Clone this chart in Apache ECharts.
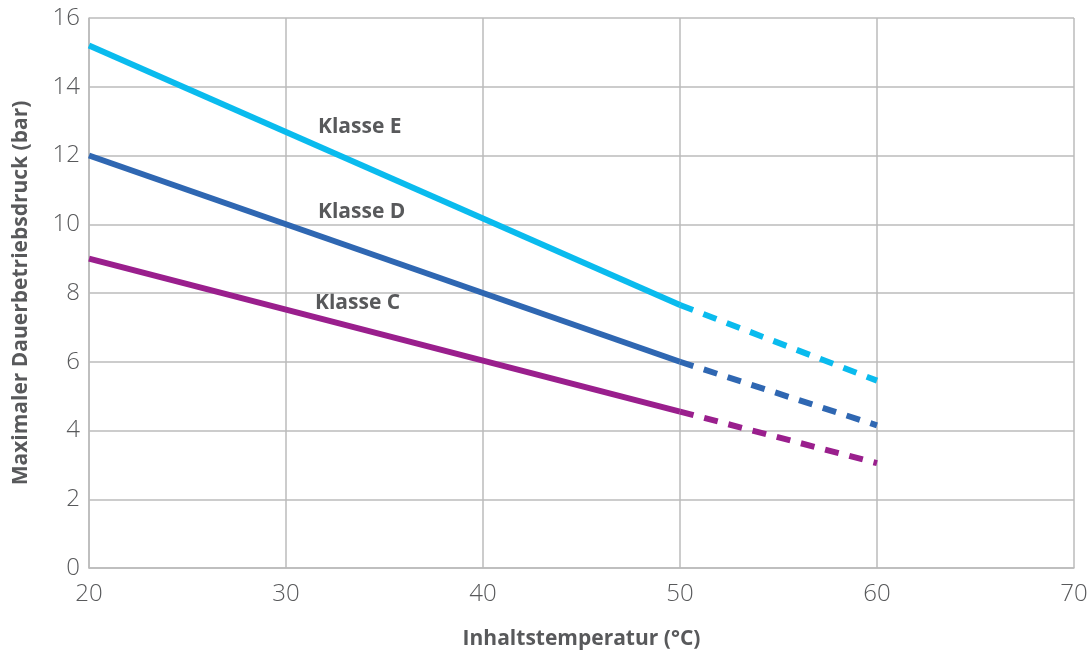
<!DOCTYPE html>
<html><head><meta charset="utf-8">
<script src="https://cdn.jsdelivr.net/npm/echarts@6/dist/echarts.min.js"></script>
<style>html,body{margin:0;padding:0;background:#fff}#c{width:1091px;height:652px}</style>
</head><body><div id="c"></div>
<script>
var temps = [20, 50, 60];
var klasseE = [15.2, 7.65, 5.45];
var klasseD = [12.0, 6.0, 4.15];
var klasseC = [9.0, 4.55, 3.05];
var seriesNames = ['Klasse E', 'Klasse D', 'Klasse C'];
var colors = ['#0ABBEE', '#2F67B2', '#9A1F8D'];
var xTicks = [20, 30, 40, 50, 60, 70];
var yTicks = [0, 2, 4, 6, 8, 10, 12, 14, 16];

function solid(vals){ return [[temps[0], vals[0]], [temps[1], vals[1]]]; }
function dashed(vals){ return [[temps[1], vals[1]], [temps[2], vals[2]]]; }

var all = [klasseE, klasseD, klasseC];
var series = [];
all.forEach(function(v, i){
  series.push({type:'line', name:seriesNames[i], data:solid(v), showSymbol:false, symbol:'none',
    lineStyle:{color:colors[i], width:6, cap:'butt'}, silent:true, z:3});
  series.push({type:'line', name:seriesNames[i]+' ext', data:dashed(v), showSymbol:false, symbol:'none',
    lineStyle:{color:colors[i], width:6, type:[14,11], cap:'butt'}, silent:true, z:3});
});

var chart = echarts.init(document.getElementById('c'));
var labelStyle = {fill:'#58595B', font:'bold 21px "Open Sans", sans-serif', textVerticalAlign:'middle'};
chart.setOption({
  animation:false,
  grid:{left:89, right:17, top:18, bottom:84, outerBoundsMode:'none', containLabel:false},
  xAxis:{type:'value', min:xTicks[0], max:xTicks[xTicks.length-1], interval:10,
    name:'Inhaltstemperatur (°C)', nameLocation:'middle', nameGap:61,
    nameTextStyle:{color:'#58595B', fontSize:21, fontWeight:'bold', fontFamily:'Open Sans'},
    axisLine:{show:true, lineStyle:{color:'#BBBBBB', width:1.5}},
    axisTick:{show:false},
    axisLabel:{color:'#58595B', fontSize:24, fontFamily:'Open Sans', fontWeight:300, margin:14},
    splitLine:{show:true, lineStyle:{color:'#BBBBBB', width:1.5}}},
  yAxis:{type:'value', min:yTicks[0], max:yTicks[yTicks.length-1], interval:2,
    name:'Maximaler Dauerbetriebsdruck (bar)', nameLocation:'middle', nameGap:57,
    nameTextStyle:{color:'#58595B', fontSize:21, fontWeight:'bold', fontFamily:'Open Sans'},
    axisLine:{show:true, lineStyle:{color:'#BBBBBB', width:1.5}},
    axisTick:{show:false},
    axisLabel:{color:'#58595B', fontSize:24, fontFamily:'Open Sans', fontWeight:300, margin:9},
    splitLine:{show:true, lineStyle:{color:'#BBBBBB', width:1.5}}},
  graphic:[
    {type:'text', x:318, y:127, style:Object.assign({text:seriesNames[0]}, labelStyle)},
    {type:'text', x:318, y:212, style:Object.assign({text:seriesNames[1]}, labelStyle)},
    {type:'text', x:315, y:303, style:Object.assign({text:seriesNames[2]}, labelStyle)}
  ],
  series:series
});
</script></body></html>
